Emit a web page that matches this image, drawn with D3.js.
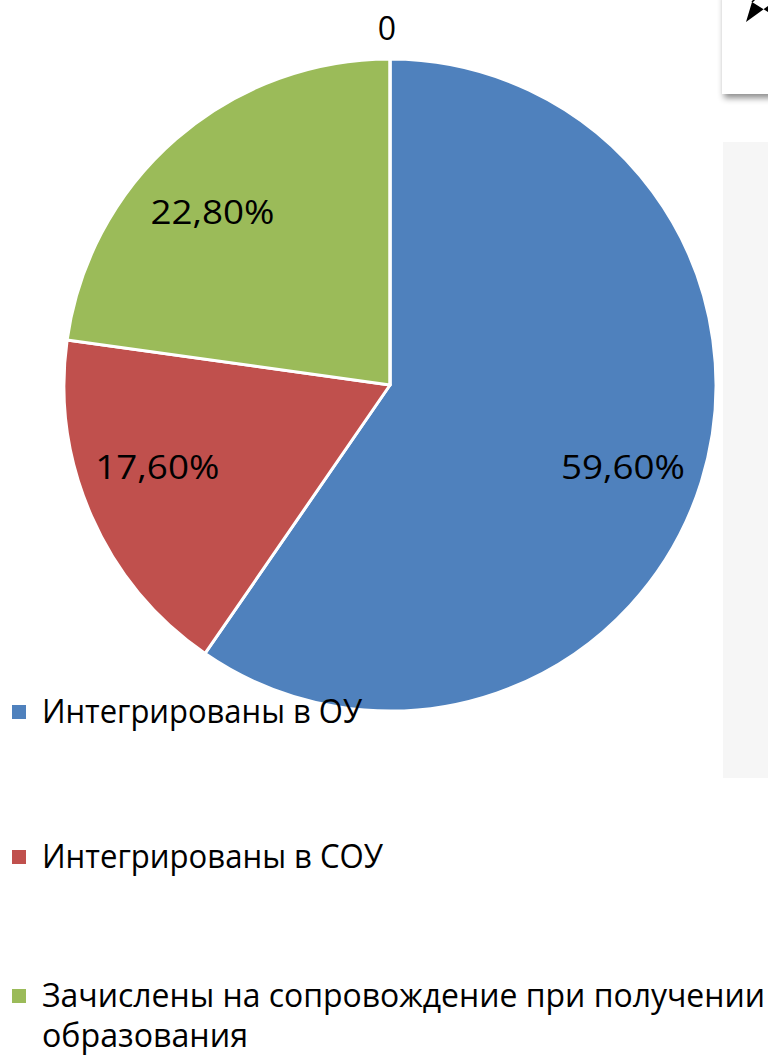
<!DOCTYPE html>
<html>
<head>
    <meta charset="utf-8">
    <title>pie_integration</title>
    <script src="https://d3js.org/d3.v7.min.js"></script>
    <style>
        body { margin: 0; background: #ffffff; }
        svg text { font-family: "Open Sans", "DejaVu Sans", sans-serif; fill: #000; }
    </style>
</head>
<body>
    <svg width="768" height="1055"></svg>
    <script>
        // Categories and values (percent)
        var categories = ["Интегрированы в ОУ", "Интегрированы в СОУ", "Зачислены на сопровождение при получении образования", "Прочее"];
        var values = [59.6, 17.6, 22.8, 0];
        var labels = ["59,60%", "17,60%", "22,80%", "0"];
        var colors = ["#4f81bd", "#c0504d", "#9bbb59", "#8064a2"];

        var svg = d3.select("svg");

        // Background decorations on the right edge
        var defs = svg.append("defs");
        var f = defs.append("filter").attr("id", "shadow").attr("x", "-20%").attr("y", "-20%").attr("width", "160%").attr("height", "160%");
        f.append("feDropShadow").attr("dx", 2).attr("dy", 4).attr("stdDeviation", 3).attr("flood-color", "#000").attr("flood-opacity", 0.45);

        svg.append("rect")
            .attr("x", 722).attr("y", -10).attr("width", 60).attr("height", 104)
            .attr("fill", "#ffffff").attr("filter", "url(#shadow)");
        // partial arrow bullet at the top edge
        svg.append("path")
            .attr("d", "M746,22 L768,6 L768,12 L752,2 Z")
            .attr("fill", "#000");
        svg.append("path")
            .attr("d", "M752,2 L758,-4")
            .attr("stroke", "#000").attr("stroke-width", 1.5);
        svg.append("rect")
            .attr("x", 723).attr("y", 142).attr("width", 45).attr("height", 636)
            .attr("fill", "#f6f6f6");

        // Pie
        var cx = 390, cy = 385, radius = 326;
        var g = svg.append("g").attr("transform", "translate(" + cx + "," + cy + ")");

        var pie = d3.pie().sort(null).value(function(d) { return d; });
        var arcs = pie(values);
        var arc = d3.arc().innerRadius(0).outerRadius(radius);

        g.selectAll("path")
            .data(arcs)
            .enter()
            .append("path")
            .attr("d", arc)
            .attr("fill", function(d, i) { return colors[i]; })
            .attr("stroke", "#ffffff")
            .attr("stroke-width", 3)
            .attr("stroke-linejoin", "round");

        // Data labels (small angular nudge to mimic the office label placement)
        var labelR = radius * 0.758;
        var nudge = [2.2, 4.1, -4.9, 0];
        g.selectAll("text.lbl")
            .data(arcs)
            .enter()
            .append("text")
            .attr("class", "lbl")
            .attr("transform", function(d, i) {
                if (i === 3) return "translate(-3," + (-radius - 30) + ")";
                var a = (d.startAngle + d.endAngle) / 2 + nudge[i] * Math.PI / 180;
                return "translate(" + (Math.sin(a) * labelR) + "," + (-Math.cos(a) * labelR) + ")";
            })
            .attr("text-anchor", "middle")
            .attr("dy", "0.35em")
            .attr("textLength", function(d, i) { return i === 3 ? null : 124; })
            .attr("lengthAdjust", "spacingAndGlyphs")
            .style("font-size", "32px")
            .text(function(d, i) { return labels[i]; });

        // Legend
        var legendRows = [
            { y: 712, lines: ["Интегрированы в ОУ"], w: [320] },
            { y: 857, lines: ["Интегрированы в СОУ"], w: [341] },
            { y: 996, lines: ["Зачислены на сопровождение при получении", "образования"], w: [723, 206] }
        ];
        var legend = svg.append("g");
        legendRows.forEach(function(row, i) {
            legend.append("rect")
                .attr("x", 12).attr("y", row.y - 7).attr("width", 14).attr("height", 14)
                .attr("fill", colors[i]);
            row.lines.forEach(function(line, j) {
                legend.append("text")
                    .attr("x", 42).attr("y", row.y + j * 40)
                    .attr("dy", "0.35em")
                    .attr("textLength", row.w[j])
                    .attr("lengthAdjust", "spacingAndGlyphs")
                    .style("font-size", "32px")
                    .text(line);
            });
        });
    </script>
</body>
</html>
